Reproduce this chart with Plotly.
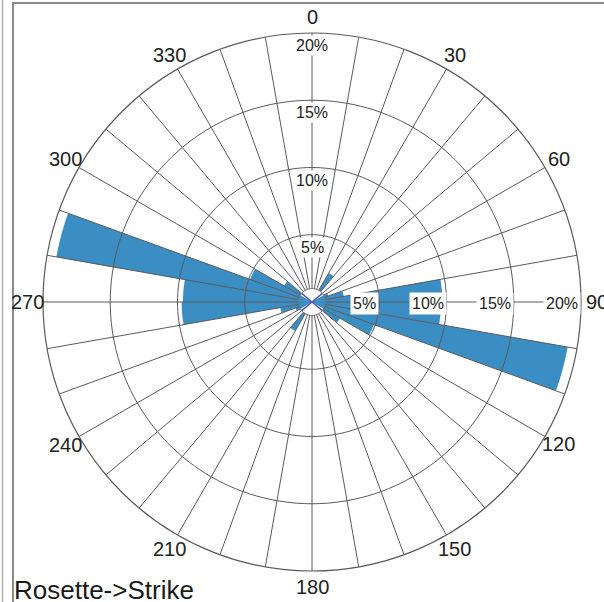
import numpy as np
import plotly.graph_objects as go

# Strike rose: 10-degree bins, percentage of measurements per bin (0-180),
# mirrored onto 180-360 since strike is bidirectional.
bin_width = 10
bin_centers_half = list(range(5, 180, 10))
strike_pct_half = [0.6, 0.5, 0.9, 2.5, 0.8, 0.7, 1.3, 2.4, 9.7,
                   9.6, 19.3, 4.9, 2.4, 1.0, 0.6, 0.5, 0.5, 0.6]

bin_centers = bin_centers_half + [c + 180 for c in bin_centers_half]
strike_pct = strike_pct_half + strike_pct_half

ring_values = [5, 10, 15, 20]
ring_labels = ["5%", "10%", "15%", "20%"]
angle_ticks = list(range(0, 360, 30))
angle_labels = [str(a) for a in angle_ticks]
r_max = 20
r_hub = 1.0

W, H = 604, 602
CX, CY, R = 312, 302, 269          # plot centre / radius in pixels
LABEL_R = 285                      # compass label distance from centre, px

BAR = "#3b8ec3"
GRID = "#5a5a5a"
FONT = "Liberation Sans, Arial, sans-serif"

fig = go.Figure()

fig.add_trace(go.Barpolar(
    r=strike_pct, theta=bin_centers, width=[bin_width] * len(bin_centers),
    marker=dict(color=BAR, line=dict(width=0)), opacity=1, hoverinfo="skip"))

# central hub
circ = np.linspace(0, 360, 181)
fig.add_trace(go.Scatterpolar(
    r=[r_hub] * len(circ), theta=circ, mode="lines", fill="toself",
    fillcolor="white", line=dict(color=GRID, width=1), hoverinfo="skip"))
for a0, a1 in [(60, 120), (240, 300)]:
    arc = np.linspace(a0, a1, 31)
    fig.add_trace(go.Scatterpolar(
        r=[0] + [r_hub] * len(arc) + [0], theta=[a0] + list(arc) + [a1],
        mode="lines", fill="toself", fillcolor=BAR,
        line=dict(width=0, color=BAR), hoverinfo="skip"))
for a in (50, 130):
    fig.add_trace(go.Scatterpolar(
        r=[r_hub, 0, r_hub], theta=[a, 0, a + 180], mode="lines",
        line=dict(color="#5b4fb5", width=1.5), hoverinfo="skip"))

# spokes every 10 degrees, drawn over the bars
sp_r, sp_t = [], []
for a in range(0, 360, 10):
    sp_r += [r_hub, r_max, None]
    sp_t += [a, a, None]
fig.add_trace(go.Scatterpolar(r=sp_r, theta=sp_t, mode="lines",
                              line=dict(color=GRID, width=1), hoverinfo="skip"))

# percentage rings
for v in ring_values[:-1]:
    fig.add_trace(go.Scatterpolar(r=[v] * len(circ), theta=circ, mode="lines",
                                  line=dict(color=GRID, width=1), hoverinfo="skip"))

fig.update_layout(
    width=W, height=H, margin=dict(l=0, r=0, t=0, b=0),
    paper_bgcolor="white", plot_bgcolor="white", showlegend=False,
    polar=dict(
        domain=dict(x=[(CX - R) / W, (CX + R) / W],
                    y=[(H - CY - R) / H, (H - CY + R) / H]),
        bgcolor="white",
        radialaxis=dict(range=[0, r_max], visible=False, showgrid=False),
        angularaxis=dict(rotation=90, direction="clockwise",
                         showgrid=False, showticklabels=False, ticks="",
                         showline=True, linecolor=GRID, linewidth=1.2),
    ),
)

# compass labels centred on a circle just outside the plot
for a, lab in zip(angle_ticks, angle_labels):
    t = np.radians(a)
    px = CX + LABEL_R * np.sin(t)
    py = CY - LABEL_R * np.cos(t)
    fig.add_annotation(x=px / W, y=1 - py / H, xref="paper", yref="paper",
                       text=lab, showarrow=False, xanchor="center", yanchor="middle",
                       font=dict(family=FONT, size=20, color="#222"))

# ring value labels along the north and east spokes
cx_p, cy_p = CX / W, 1 - CY / H
for v, lab in zip(ring_values, ring_labels):
    d = v / r_max * R
    fig.add_annotation(x=cx_p, y=cy_p + d / H, xref="paper", yref="paper",
                       text=lab, showarrow=False, xanchor="center", yanchor="top",
                       yshift=-2, bgcolor="white", borderpad=1,
                       font=dict(family=FONT, size=16, color="#222"))
    fig.add_annotation(x=cx_p + d / W, y=cy_p, xref="paper", yref="paper",
                       text=lab, showarrow=False, xanchor="right", yanchor="middle",
                       yshift=-1, bgcolor="white", borderpad=2,
                       font=dict(family=FONT, size=16, color="#222"))

fig.add_annotation(x=12 / W, y=0, xref="paper", yref="paper", text="Rosette->Strike",
                   showarrow=False, xanchor="left", yanchor="bottom", yshift=-5,
                   font=dict(family=FONT, size=26, color="#1a1a1a"))

# window frame
fig.add_shape(type="line", xref="paper", yref="paper", x0=2.5 / W, x1=2.5 / W,
              y0=0, y1=1, line=dict(color="#b0b0b0", width=1.5))
fig.add_shape(type="line", xref="paper", yref="paper", x0=13 / W, x1=13 / W,
              y0=0, y1=1 - 2 / H, line=dict(color="#8a8a8a", width=2))
fig.add_shape(type="line", xref="paper", yref="paper", x0=12 / W, x1=1,
              y0=1 - 3 / H, y1=1 - 3 / H, line=dict(color="#8a8a8a", width=2))

fig.write_html("out.html")
